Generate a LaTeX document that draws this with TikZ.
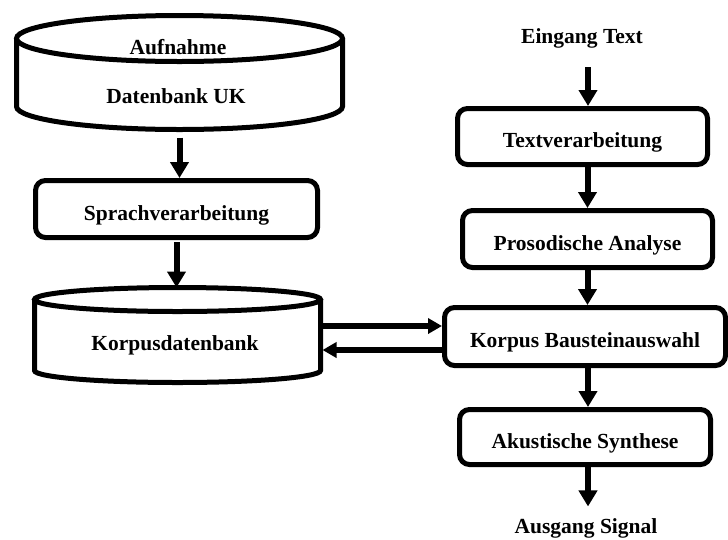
\documentclass[tikz,border=0pt]{standalone}
\usepackage{fontspec}
\setmainfont{Liberation Serif}
\usetikzlibrary{arrows.meta,positioning,calc}
\tikzset{flow/.style = {
    line width=6pt,
    -{Triangle[length=16pt, width=18pt]},
  }
}

\begin{document}
\begin{tikzpicture}[x=1pt, y=-1pt, font=\bfseries\fontsize{21.5}{25}\selectfont]
          % vertices
          \tikzstyle{stage} = [rectangle, draw, line width=5pt, rounded corners=10pt, text centered, text height=24pt, text depth=2pt]
          \tikzstyle{store} = [rectangle, inner sep=0pt, outer sep=0pt]
          \tikzstyle{plain} = [text height=14pt, text depth=4pt]
          \tikzstyle{wall} = [line width=5pt]
          \tikzstyle{side} = [line width=6pt, -{Triangle[length=14pt, width=15pt]}]

          \fill[white] (0,0) rectangle (728,539);
          \useasboundingbox (0,0) rectangle (728,539);

          % left column
          \node[store, minimum width=326pt, minimum height=114pt] (aufnahme) at (179.5,72.5) {};
          \draw[wall] ([yshift=-23pt]aufnahme.north) ellipse [x radius=163pt, y radius=23pt];
          \draw[wall] ([yshift=-23pt]aufnahme.north west) -- ([yshift=23pt]aufnahme.south west) arc [start angle=180, end angle=360, x radius=163pt, y radius=23pt] -- ([yshift=-23pt]aufnahme.north east);
          \node[plain] (aufnahme-top) at (178,49.5) {Aufnahme};
          \node[plain] (aufnahme-body) at (176,98) {Datenbank UK};

          \node[stage, minimum width=282pt, minimum height=57pt] (sprach) at (176.5,209) {Sprachverarbeitung};

          \node[store, minimum width=286pt, minimum height=95pt] (korpus) at (177.5,335) {};
          \draw[wall] ([yshift=-12pt]korpus.north) ellipse [x radius=143pt, y radius=12pt];
          \draw[wall] ([yshift=-12pt]korpus.north west) -- ([yshift=12pt]korpus.south west) arc [start angle=180, end angle=360, x radius=143pt, y radius=12pt] -- ([yshift=-12pt]korpus.north east);
          \node[plain] (korpus-body) at (175,345) {Korpusdatenbank};

          % right column
          \node[plain] (eingang) at (582,38.5) {Eingang Text};
          \node[stage, minimum width=250pt, minimum height=56pt] (textv) at (582.5,136.5) {Textverarbeitung};
          \node[stage, minimum width=250pt, minimum height=57pt] (prosod) at (587.5,239) {Prosodische Analyse};
          \node[stage, minimum width=281pt, minimum height=58pt] (auswahl) at (585,336.5) {Korpus Bausteinauswahl};
          \node[stage, minimum width=251pt, minimum height=55pt] (akust) at (585,437) {Akustische Synthese};
          \node[plain] (ausgang) at (586,528.5) {Ausgang Signal};

          % edges
          \draw[flow] ([yshift=-8pt]aufnahme.south) -- (aufnahme.south |- sprach.north);
          \draw[flow] ([yshift=-2pt]sprach.south) -- (sprach.south |- korpus.north);
          \draw[side] ([yshift=9pt]korpus.east) -- ([yshift=9pt]korpus.east -| auswahl.west);
          \draw[side, shorten >=2pt] ([yshift=-15pt]korpus.east -| auswahl.west) -- ([yshift=-15pt]korpus.east);

          \draw[flow] ([xshift=6pt,yshift=-16pt]eingang.south) -- ([xshift=6pt]eingang.south |- textv.north);
          \draw[flow] (prosod.north |- textv.south) -- (prosod.north);
          \draw[flow] (prosod.south) -- (prosod.south |- auswahl.north);
          \draw[flow] ([xshift=3pt]auswahl.south) -- ([xshift=3pt]auswahl.south |- akust.north);
          \draw[flow, shorten >=9.5pt] ([xshift=3pt]akust.south) -- ([xshift=3pt]akust.south |- ausgang.north);
        \end{tikzpicture}
\end{document}
